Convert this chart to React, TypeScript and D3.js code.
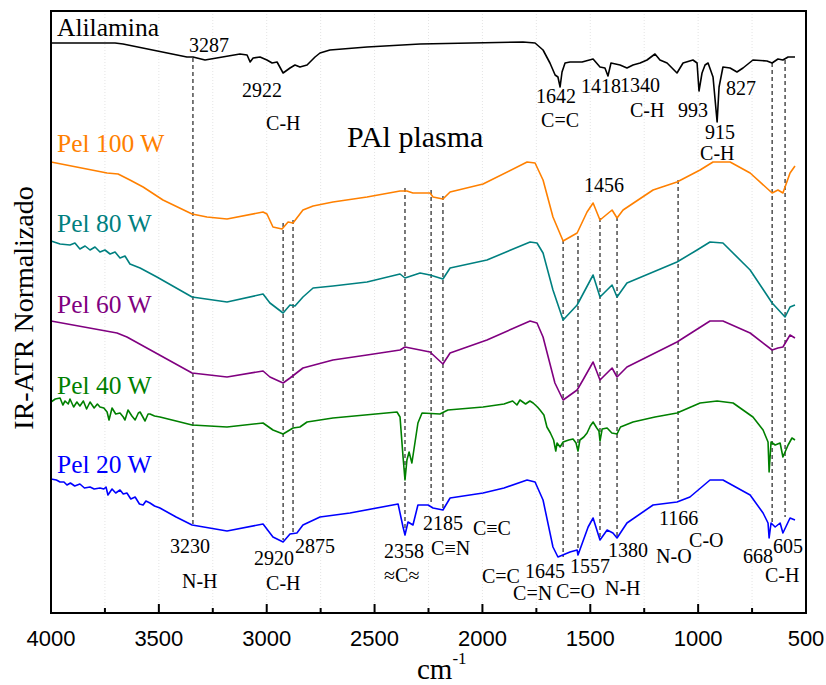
import React, { useEffect, useRef } from "react";
import * as d3 from "d3";

// spectra: [wavenumber (cm-1), normalized intensity incl. stacking offset]
const alilamina = [
  [4000, 5.70], [3703, 5.70], [3666, 5.69], [3370, 5.56], [3342, 5.56], [3286, 5.53], [3124, 5.59],
  [3091, 5.58], [3077, 5.51], [3063, 5.55], [3031, 5.56], [2999, 5.53], [2975, 5.50], [2952, 5.51],
  [2924, 5.40], [2892, 5.45], [2869, 5.48], [2846, 5.46], [2813, 5.48], [2776, 5.56], [2753, 5.60],
  [2707, 5.63], [2535, 5.66], [2289, 5.69], [1812, 5.71], [1756, 5.70], [1719, 5.63], [1687, 5.50],
  [1663, 5.38], [1650, 5.36], [1640, 5.26], [1631, 5.41], [1617, 5.50], [1594, 5.51], [1538, 5.51],
  [1487, 5.54], [1455, 5.46], [1432, 5.45], [1418, 5.37], [1404, 5.50], [1362, 5.48], [1330, 5.45],
  [1302, 5.48], [1269, 5.50], [1237, 5.53], [1200, 5.59], [1177, 5.53], [1144, 5.50], [1098, 5.40],
  [1070, 5.50], [1024, 5.53], [1005, 5.50], [996, 5.22], [982, 5.40], [968, 5.48], [954, 5.50],
  [931, 5.36], [912, 4.91], [903, 5.26], [885, 5.46], [852, 5.45], [820, 5.41], [792, 5.45],
  [746, 5.53], [681, 5.52], [657, 5.50], [630, 5.54], [607, 5.53], [583, 5.56], [551, 5.56],
];

const pel100 = [
  [4000, 4.51], [3740, 4.40], [3689, 4.39], [3634, 4.33], [3573, 4.26], [3481, 4.13], [3346, 3.99],
  [3277, 3.96], [3184, 3.94], [3017, 4.01], [2999, 3.99], [2971, 3.86], [2929, 3.84], [2901, 3.91],
  [2878, 3.90], [2832, 4.03], [2785, 4.07], [2693, 4.11], [2535, 4.16], [2382, 4.22], [2350, 4.22],
  [2322, 4.20], [2243, 4.20], [2229, 4.16], [2183, 4.14], [2150, 4.21], [1997, 4.29], [1793, 4.51],
  [1756, 4.50], [1719, 4.33], [1673, 3.96], [1626, 3.72], [1561, 3.80], [1515, 4.01], [1487, 4.10],
  [1455, 3.93], [1399, 4.03], [1376, 3.95], [1348, 4.03], [1209, 4.23], [1098, 4.31], [991, 4.43],
  [931, 4.51], [852, 4.51], [759, 4.40], [657, 4.20], [630, 4.23], [607, 4.20], [574, 4.40], [551, 4.47],
];

const pel80 = [
  [4000, 3.72], [3958, 3.69], [3912, 3.68], [3889, 3.70], [3866, 3.64], [3842, 3.67], [3819, 3.63],
  [3796, 3.66], [3773, 3.61], [3750, 3.63], [3726, 3.59], [3703, 3.61], [3680, 3.55], [3657, 3.57],
  [3634, 3.49], [3587, 3.45], [3509, 3.36], [3346, 3.16], [3184, 3.11], [3017, 3.19], [2985, 3.10],
  [2924, 3.00], [2892, 3.08], [2869, 3.07], [2832, 3.16], [2785, 3.25], [2693, 3.27], [2535, 3.31],
  [2382, 3.39], [2359, 3.35], [2289, 3.40], [2243, 3.38], [2183, 3.34], [2150, 3.45], [1979, 3.53],
  [1779, 3.71], [1747, 3.70], [1719, 3.60], [1673, 3.23], [1626, 2.93], [1561, 3.08], [1487, 3.38],
  [1455, 3.16], [1399, 3.28], [1376, 3.16], [1330, 3.30], [1098, 3.51], [1005, 3.63], [945, 3.71],
  [885, 3.70], [759, 3.43], [657, 3.10], [597, 2.96], [574, 3.06], [551, 3.08],
];

const pel60 = [
  [4000, 2.92], [3694, 2.80], [3648, 2.76], [3346, 2.40], [3184, 2.36], [3017, 2.42], [2985, 2.36],
  [2924, 2.30], [2892, 2.35], [2832, 2.45], [2693, 2.53], [2535, 2.58], [2382, 2.63], [2359, 2.66],
  [2289, 2.63], [2243, 2.61], [2183, 2.49], [2150, 2.60], [1979, 2.73], [1779, 2.92], [1747, 2.90],
  [1719, 2.76], [1664, 2.30], [1626, 2.13], [1561, 2.23], [1534, 2.33], [1487, 2.51], [1455, 2.33],
  [1399, 2.45], [1376, 2.36], [1330, 2.46], [1098, 2.71], [945, 2.92], [885, 2.92], [759, 2.80],
  [657, 2.63], [630, 2.65], [607, 2.66], [574, 2.78], [551, 2.75],
];

const pel40 = [
  [4000, 2.11], [3980, 2.14], [3958, 2.15], [3945, 2.08], [3935, 2.12], [3920, 2.09], [3912, 2.14],
  [3895, 2.06], [3880, 2.11], [3866, 2.07], [3850, 2.12], [3835, 2.04], [3819, 2.11], [3800, 2.05],
  [3785, 2.09], [3773, 2.06], [3755, 2.05], [3740, 2.01], [3731, 1.93], [3717, 2.05], [3700, 1.99],
  [3680, 2.00], [3665, 1.96], [3657, 1.93], [3643, 2.03], [3625, 1.97], [3610, 1.93], [3595, 2.00],
  [3587, 2.01], [3564, 1.92], [3550, 1.99], [3541, 1.99], [3520, 1.97], [3495, 1.96], [3420, 1.92],
  [3346, 1.88], [3184, 1.86], [3017, 1.90], [2971, 1.83], [2924, 1.79], [2878, 1.85], [2846, 1.86],
  [2813, 1.91], [2693, 1.95], [2396, 2.01], [2382, 1.96], [2368, 1.56], [2359, 1.33], [2350, 1.53],
  [2340, 1.61], [2327, 1.50], [2299, 1.90], [2280, 2.00], [2197, 1.99], [2160, 2.03], [1997, 2.06],
  [1900, 2.09], [1860, 2.12], [1840, 2.08], [1826, 2.13], [1800, 2.09], [1780, 2.12], [1765, 2.10],
  [1745, 2.06], [1733, 2.03], [1715, 1.98], [1701, 1.86], [1685, 1.80], [1670, 1.73], [1660, 1.62],
  [1654, 1.70], [1640, 1.66], [1626, 1.71], [1600, 1.73], [1580, 1.74], [1566, 1.70], [1557, 1.62],
  [1548, 1.73], [1530, 1.76], [1515, 1.80], [1500, 1.87], [1487, 1.91], [1470, 1.85], [1460, 1.82],
  [1455, 1.72], [1445, 1.84], [1422, 1.85], [1400, 1.80], [1376, 1.79], [1360, 1.86], [1302, 1.91],
  [1200, 1.96], [1098, 2.00], [991, 2.10], [912, 2.12], [838, 2.10], [746, 1.96], [699, 1.83],
  [676, 1.71], [671, 1.41], [662, 1.71], [643, 1.68], [620, 1.70], [607, 1.56], [583, 1.68],
  [565, 1.75], [551, 1.73],
];

const pel20 = [
  [4000, 1.34], [3975, 1.33], [3958, 1.31], [3940, 1.31], [3926, 1.28], [3910, 1.30], [3890, 1.27],
  [3866, 1.29], [3845, 1.25], [3819, 1.26], [3800, 1.24], [3773, 1.25], [3755, 1.24], [3745, 1.26],
  [3736, 1.18], [3717, 1.24], [3700, 1.20], [3680, 1.23], [3665, 1.19], [3648, 1.20], [3630, 1.14],
  [3610, 1.16], [3590, 1.09], [3573, 1.08], [3560, 1.12], [3541, 1.10], [3520, 1.07], [3495, 1.05],
  [3420, 0.96], [3346, 0.88], [3184, 0.82], [3017, 0.89], [2971, 0.76], [2924, 0.71], [2892, 0.79],
  [2860, 0.80], [2832, 0.88], [2753, 0.96], [2614, 1.00], [2391, 1.09], [2368, 0.86], [2359, 0.78],
  [2345, 0.91], [2322, 0.88], [2299, 1.08], [2252, 1.08], [2229, 1.05], [2183, 1.03], [2150, 1.15],
  [1997, 1.20], [1900, 1.25], [1793, 1.33], [1756, 1.31], [1719, 1.13], [1673, 0.66], [1650, 0.56],
  [1594, 0.61], [1561, 0.63], [1557, 0.58], [1510, 0.86], [1487, 0.95], [1455, 0.73], [1422, 0.83],
  [1395, 0.80], [1376, 0.75], [1330, 0.90], [1209, 1.08], [1098, 1.11], [1038, 1.16], [945, 1.33],
  [885, 1.33], [759, 1.18], [699, 1.00], [676, 0.90], [671, 0.75], [662, 0.90], [643, 0.86],
  [620, 0.90], [607, 0.80], [574, 0.95], [551, 0.93],
];

const seriesNames = ["Alilamina", "Pel 100 W", "Pel 80 W", "Pel 60 W", "Pel 40 W", "Pel 20 W"];
const seriesColors = ["#000000", "#ff8000", "#008080", "#800080", "#008000", "#0000ff"];
const seriesLabelY = [5.77, 4.61, 3.81, 3.00, 2.19, 1.40];

// dashed guide lines: wavenumber, from intensity, to intensity
const guideWn = [3342, 2924, 2878, 2359, 2238, 2183, 1626, 1557, 1455, 1376, 1093, 657, 597];
const guideTop = [5.55, 3.90, 3.93, 4.25, 4.23, 4.17, 3.73, 3.77, 3.95, 3.96, 4.33, 5.50, 5.53];
const guideBottom = [0.88, 0.73, 0.80, 0.81, 1.10, 1.05, 0.56, 0.60, 0.76, 0.76, 1.13, 0.90, 0.96];

// band annotations: text, wavenumber (left edge), intensity (baseline)
const notes = [
  ["3287", 3360, 5.61], ["2922", 3115, 5.16], ["C-H", 3003, 4.83], ["1642", 1752, 5.10],
  ["C=C", 1728, 4.86], ["1418", 1543, 5.20], ["1340", 1362, 5.21], ["C-H", 1316, 4.96],
  ["993", 1093, 4.96], ["827", 871, 5.18], ["915", 968, 4.74], ["C-H", 991, 4.53],
  ["1456", 1529, 4.21], ["3230", 3448, 0.60], ["N-H", 3393, 0.25], ["2920", 3059, 0.48],
  ["2875", 2869, 0.60], ["C-H", 3003, 0.23], ["2358", 2456, 0.55], ["≈C≈", 2456, 0.31],
  ["2185", 2275, 0.83], ["C≡N", 2238, 0.58], ["C≡C", 2044, 0.78], ["C=C", 2002, 0.30],
  ["1645", 1803, 0.35], ["C=N", 1858, 0.13], ["1557", 1594, 0.40], ["C=O", 1659, 0.15],
  ["1380", 1418, 0.56], ["N-H", 1432, 0.18], ["1166", 1181, 0.88], ["N-O", 1195, 0.50],
  ["C-O", 1042, 0.66], ["668", 792, 0.50], ["605", 653, 0.60], ["C-H", 690, 0.31],
];

const serif = "'Liberation Serif', 'Times New Roman', serif";
const sans = "'Liberation Sans', Arial, sans-serif";

function Spectra() {
  const ref = useRef(null);

  useEffect(() => {
    const left = 51, right = 806, top = 11, bottom = 613;
    const x = d3.scaleLinear().domain([4000, 500]).range([left, right]);
    const y = d3.scaleLinear().domain([0, 6.02]).range([bottom, top]);

    const svg = d3.select(ref.current);
    svg.selectAll("*").remove();

    // faint grid
    svg.append("g").selectAll("line")
      .data(d3.range(3750, 500, -250))
      .join("line")
      .attr("x1", d => x(d)).attr("x2", d => x(d))
      .attr("y1", top).attr("y2", bottom)
      .attr("stroke", "#e4e4e4")
      .attr("stroke-dasharray", "1,2");

    // guides
    svg.append("g").selectAll("line")
      .data(guideWn)
      .join("line")
      .attr("x1", d => x(d)).attr("x2", d => x(d))
      .attr("y1", (d, i) => y(guideTop[i]))
      .attr("y2", (d, i) => y(guideBottom[i]))
      .attr("stroke", "#222")
      .attr("stroke-width", 1.2)
      .attr("stroke-dasharray", "4,3");

    const spectra = [alilamina, pel100, pel80, pel60, pel40, pel20];
    const line = d3.line().x(d => x(d[0])).y(d => y(d[1]));

    svg.append("g").selectAll("path")
      .data(spectra)
      .join("path")
      .attr("d", d => line(d))
      .attr("fill", "none")
      .attr("stroke", (d, i) => seriesColors[i])
      .attr("stroke-width", 1.6)
      .attr("stroke-linejoin", "round");

    svg.append("g").selectAll("text")
      .data(seriesNames)
      .join("text")
      .attr("x", x(3972))
      .attr("y", (d, i) => y(seriesLabelY[i]))
      .attr("fill", (d, i) => seriesColors[i])
      .style("font-family", serif)
      .style("font-size", "25.5px")
      .text(d => d);

    svg.append("g").selectAll("text")
      .data(notes)
      .join("text")
      .attr("x", d => x(d[1]))
      .attr("y", d => y(d[2]))
      .style("font-family", serif)
      .style("font-size", "20px")
      .text(d => d[0]);

    svg.append("text")
      .attr("x", x(2628)).attr("y", y(4.66))
      .style("font-family", serif)
      .style("font-size", "30px")
      .text("PAl plasma");

    // frame
    svg.append("rect")
      .attr("x", left).attr("y", top)
      .attr("width", right - left).attr("height", bottom - top)
      .attr("fill", "none").attr("stroke", "#000").attr("stroke-width", 2);

    // inward ticks on bottom axis
    svg.append("g").selectAll("line")
      .data(d3.range(3750, 500, -250))
      .join("line")
      .attr("x1", d => x(d)).attr("x2", d => x(d))
      .attr("y1", bottom)
      .attr("y2", d => bottom - (d % 500 === 0 ? 9 : 5))
      .attr("stroke", "#000").attr("stroke-width", 2);

    svg.append("g").selectAll("text")
      .data(d3.range(4000, 499, -500))
      .join("text")
      .attr("x", d => x(d))
      .attr("y", 646)
      .attr("text-anchor", "middle")
      .style("font-family", sans)
      .style("font-size", "22px")
      .text(d => d);

    const xl = svg.append("text")
      .attr("x", 417).attr("y", 679)
      .style("font-family", serif)
      .style("font-size", "29px");
    xl.append("tspan").text("cm");
    xl.append("tspan").attr("dy", -15).style("font-size", "17px").text("-1");

    svg.append("text")
      .attr("transform", "translate(33,308) rotate(-90)")
      .attr("text-anchor", "middle")
      .style("font-family", serif)
      .style("font-size", "28px")
      .text("IR-ATR Normalizado");
  }, []);

  return <svg ref={ref} width={826} height={685} style={{ position: "absolute", left: 0, top: 0, background: "#fff" }}></svg>;
}

export default function App() {
  return <Spectra />;
}
